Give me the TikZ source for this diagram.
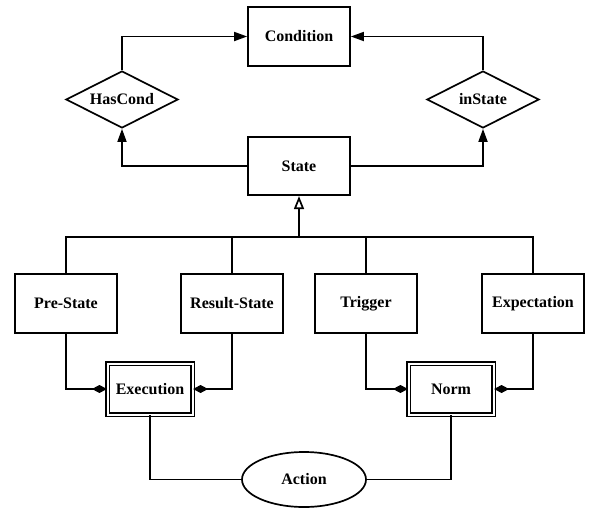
\documentclass[tikz,border=0pt]{standalone}
\usepackage{fontspec}
\setmainfont{Liberation Serif}
\usetikzlibrary{shapes.geometric,arrows.meta}
\begin{document}
\begin{tikzpicture}[x=1pt,y=-1pt,line width=1.7pt,
  every node/.style={font=\fontsize{16}{19}\selectfont\bfseries,inner sep=0pt},
  ent/.style={draw,rectangle,minimum width=102pt,minimum height=58.5pt},
  wk/.style={draw,rectangle,double=white,double distance=2pt,line width=1.1pt,minimum width=85pt,minimum height=51pt},
  rel/.style={draw,diamond,aspect=2,minimum width=112pt,minimum height=57pt},
  act/.style={draw,ellipse,minimum width=124pt,minimum height=55pt},
  arr/.style={-{Triangle[length=13pt,width=9pt]}},
  gen/.style={-{Triangle[open,length=13pt,width=10pt]}},
  agg/.style={-{Diamond[length=15pt,width=8pt]}}]
\useasboundingbox (0,0) rectangle (589,509);
\node[ent] (cond) at (299,36.5) {Condition};
\node[rel] (hascond) at (122,99.5) {HasCond};
\node[rel] (instate) at (483,99.5) {inState};
\node[ent] (state) at (299,166) {State};
\node[ent] (pre) at (66,303.5) {Pre-State};
\node[ent] (res) at (232,303.5) {Result-State};
\node[ent] (trig) at (366,303.5) {Trigger};
\node[ent] (expe) at (533,303.5) {Expectation};
\node[wk] (exec) at (150,389) {Execution};
\node[wk] (norm) at (451,389) {Norm};
\node[act] (action) at (304,479.5) {Action};
\coordinate (hub) at (299,237);
\draw[arr] (hascond.north) |- (cond.west);
\draw[arr] (instate.north) |- (cond.east);
\draw[arr] (state.west) -| (hascond.south);
\draw[arr] (state.east) -| (instate.south);
\draw[gen] (hub) -- (state.south);
\draw (pre.north) |- (hub) -| (expe.north);
\draw (res.north) -- (res.north |- hub);
\draw (trig.north) -- (trig.north |- hub);
\draw[agg] (pre.south) |- (exec.west);
\draw[agg] (res.south) |- (exec.east);
\draw[agg] (trig.south) |- (norm.west);
\draw[agg] (expe.south) |- (norm.east);
\draw (exec.south) |- (action.west);
\draw (norm.south) |- (action.east);
\end{tikzpicture}
\end{document}
